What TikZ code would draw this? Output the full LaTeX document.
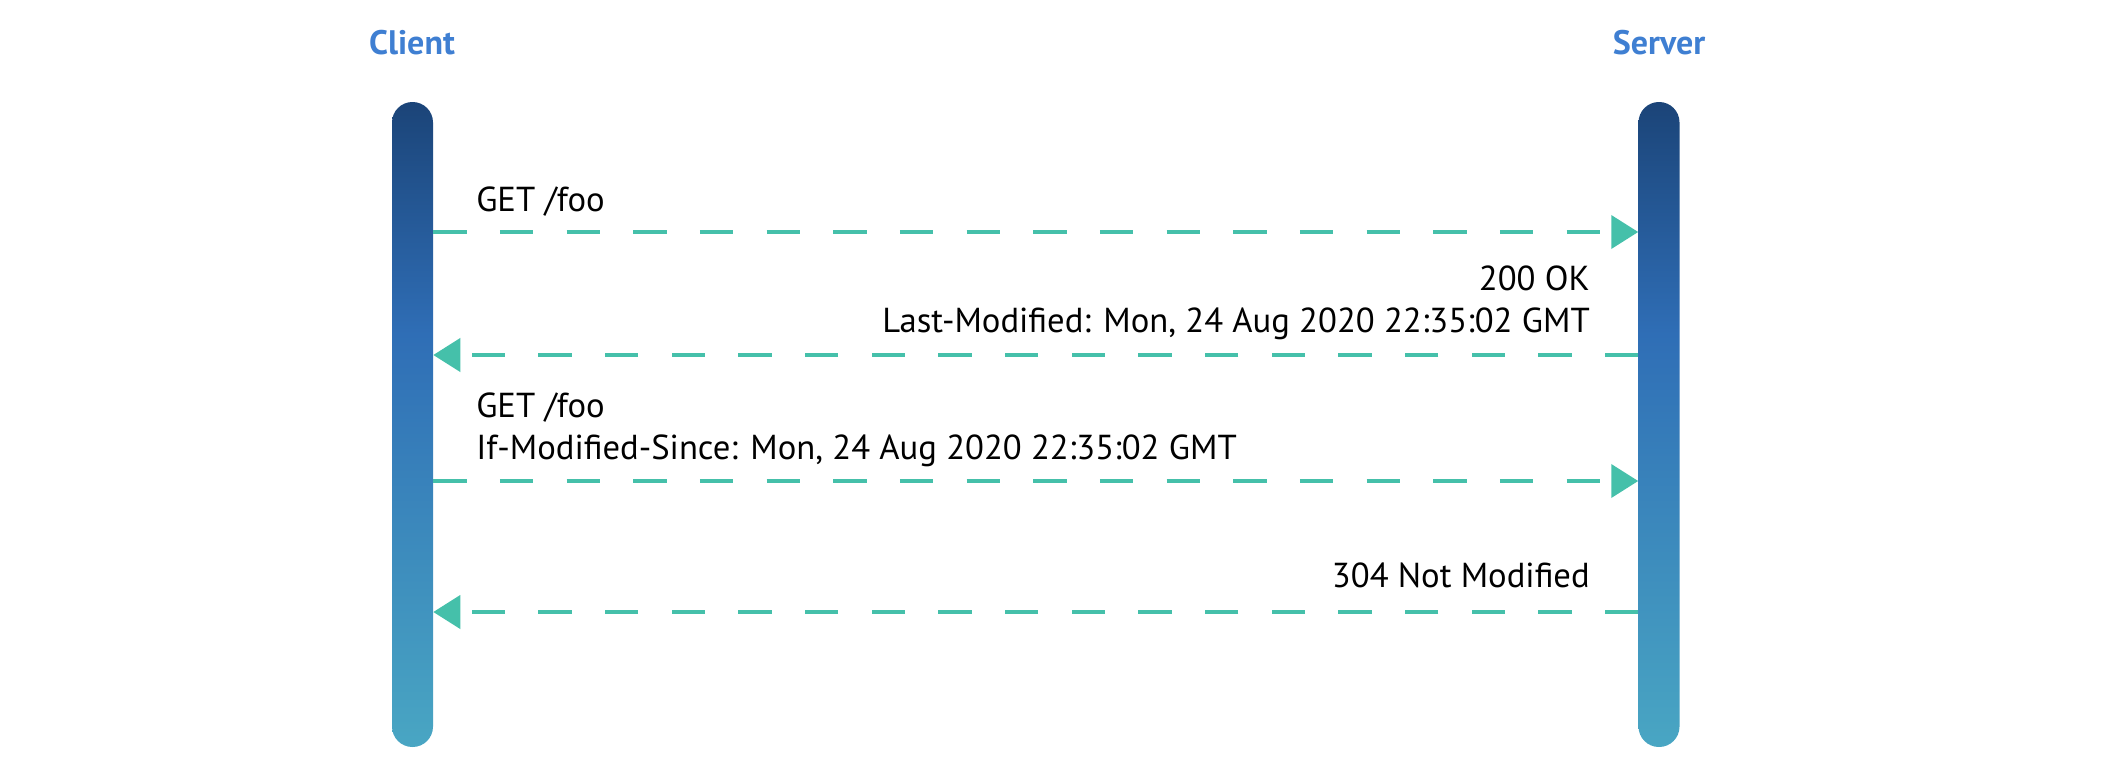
\documentclass[tikz,border=0pt]{standalone}
\usepackage{fontspec}
\setmainfont{PT Sans}
\usetikzlibrary{arrows.meta}
\definecolor{lblue}{HTML}{3F7FD2}
\definecolor{barTop}{HTML}{1B4478}
\definecolor{barMid}{HTML}{2F6EB6}
\definecolor{barBot}{HTML}{49A6C3}
\definecolor{teal}{HTML}{45C0AA}
\pgfdeclareverticalshading{lifeshade}{100bp}{color(0bp)=(barBot); color(25bp)=(barBot); color(57bp)=(barMid); color(75bp)=(barTop); color(100bp)=(barTop)}
\tikzset{
  lifeline/.style={rectangle, minimum width=41*0.75pt, minimum height=645*0.75pt, inner sep=0pt,
    rounded corners=20.4*0.75pt, shading=lifeshade, draw=none},
  actor/.style={font=\fontsize{25.5}{30}\selectfont\bfseries, text=lblue, anchor=base, inner sep=0pt},
  msgtext/.style={font=\fontsize{26}{31}\selectfont, text=black, inner sep=0pt},
  msg/.style={draw=teal, line width=3pt, dash pattern=on 25pt off 25pt,
    -{Triangle[length=20.25pt,width=24.75pt,fill=teal]}}
}
\begin{document}
\begin{tikzpicture}[x=0.75pt,y=-0.75pt]
\useasboundingbox (0,0) rectangle (2126,782);
\node[actor] (clientlbl) at (412,54) {Client};
\node[actor] (serverlbl) at (1659,54) {Server};
\node[lifeline] (client) at (412.5,424.5) {};
\node[lifeline] (server) at (1659,424.5) {};
\coordinate (m1) at (0,232);
\coordinate (m2) at (0,355);
\coordinate (m3) at (0,481);
\coordinate (m4) at (0,612);
\draw[msg] (client.east |- m1) -- (server.west |- m1);
\draw[msg] (server.west |- m2) -- (client.east |- m2);
\draw[msg] (client.east |- m3) -- (server.west |- m3);
\draw[msg] (server.west |- m4) -- (client.east |- m4);
\node[msgtext, anchor=base west] (t1) at (476,211) {GET /foo};
\node[msgtext, anchor=base east] (t2a) at (1590,290) {200 OK};
\node[msgtext, anchor=base east] (t2b) at (1590,332) {Last-Modified: Mon, 24 Aug 2020 22:35:02 GMT};
\node[msgtext, anchor=base west] (t3a) at (476,417) {GET /foo};
\node[msgtext, anchor=base west] (t3b) at (476,459) {If-Modified-Since: Mon, 24 Aug 2020 22:35:02 GMT};
\node[msgtext, anchor=base east] (t4) at (1590,587) {304 Not Modified};
\end{tikzpicture}
\end{document}
